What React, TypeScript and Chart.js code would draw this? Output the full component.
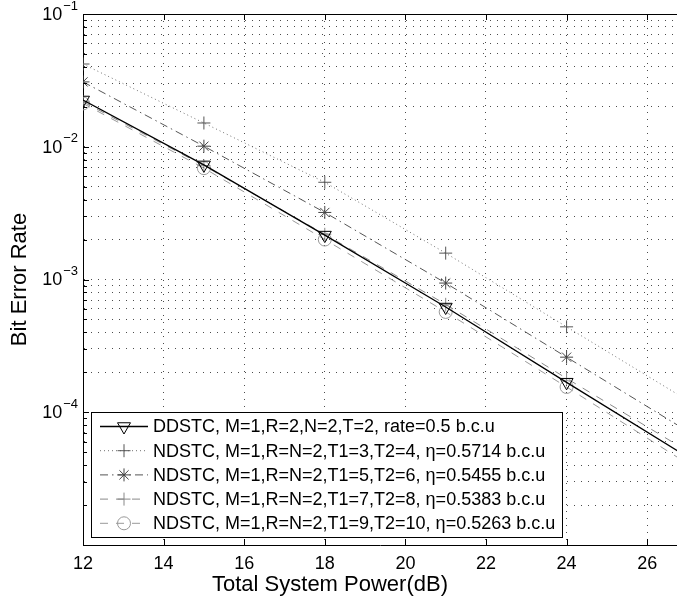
import React, { useEffect, useRef } from 'react';
import { Chart, registerables } from 'chart.js';

Chart.register(...registerables);

// ---- data ----
const powerDb = [12, 15, 18, 21, 24, 27];
const berDDSTC = [0.0225, 0.0073, 0.00216, 0.00062, 0.000168, 0.000046];
const berT1_3 = [0.042, 0.0151, 0.0054, 0.00158, 0.00044, 0.000123];
const berT1_5 = [0.0308, 0.0101, 0.0032, 0.00094, 0.00026, 0.000072];
const berT1_7 = [0.0218, 0.0072, 0.00219, 0.00065, 0.00018, 0.000051];
const berT1_9 = [0.0212, 0.0069, 0.002, 0.00057, 0.000155, 0.000041];

const xTicks = [12, 14, 16, 18, 20, 22, 24, 26];
const yDecadeExps = [-5, -4, -3, -2, -1];
const yLabelExps = [-4, -3, -2, -1];
const yMinorMult = [1, 2, 3, 4, 5, 6, 7, 8, 9];

const legendLabels = [
  'DDSTC, M=1,R=2,N=2,T=2, rate=0.5 b.c.u',
  'NDSTC, M=1,R=N=2,T1=3,T2=4, η=0.5714 b.c.u',
  'NDSTC, M=1,R=N=2,T1=5,T2=6, η=0.5455 b.c.u',
  'NDSTC, M=1,R=N=2,T1=7,T2=8, η=0.5383 b.c.u',
  'NDSTC, M=1,R=N=2,T1=9,T2=10, η=0.5263 b.c.u',
];
const xTitle = 'Total System Power(dB)';
const yTitle = 'Bit Error Rate';

const FONT = "'Liberation Sans', Arial, sans-serif";

const seriesStyles = [
  { values: berDDSTC, color: '#000000', pointColor: '#000000', dash: [], width: 1.3, marker: 'triangle', r: 7.5 },
  { values: berT1_3, color: '#707070', pointColor: '#555555', dash: [1, 3], width: 1, marker: 'cross', r: 6.5 },
  { values: berT1_5, color: '#555555', pointColor: '#444444', dash: [8, 4, 1.5, 4], width: 1, marker: 'star', r: 6.5 },
  { values: berT1_7, color: '#8a8a8a', pointColor: '#888888', dash: [8, 8], width: 1, marker: 'cross', r: 6.5 },
  { values: berT1_9, color: '#999999', pointColor: '#999999', dash: [8, 8], width: 1, marker: 'circle', r: 6.5 },
];

function yGridValues(): number[] {
  const out: number[] = [];
  yDecadeExps.forEach((e) => {
    if (e === -1) {
      out.push(Math.pow(10, e));
    } else {
      yMinorMult.forEach((m) => out.push(m * Math.pow(10, e)));
    }
  });
  return out;
}

function drawMarker(ctx: CanvasRenderingContext2D, kind: string, x: number, y: number, r: number, color: string) {
  ctx.save();
  ctx.setLineDash([]);
  ctx.strokeStyle = color;
  ctx.lineWidth = 1;
  ctx.beginPath();
  if (kind === 'triangle') {
    const w = r * Math.sqrt(3) / 2;
    ctx.moveTo(x, y + r);
    ctx.lineTo(x - w, y - r / 2);
    ctx.lineTo(x + w, y - r / 2);
    ctx.closePath();
  } else if (kind === 'cross') {
    ctx.moveTo(x - r, y); ctx.lineTo(x + r, y);
    ctx.moveTo(x, y - r); ctx.lineTo(x, y + r);
  } else if (kind === 'star') {
    ctx.moveTo(x - r, y); ctx.lineTo(x + r, y);
    ctx.moveTo(x, y - r); ctx.lineTo(x, y + r);
    const d = r * Math.SQRT1_2;
    ctx.moveTo(x - d, y - d); ctx.lineTo(x + d, y + d);
    ctx.moveTo(x - d, y + d); ctx.lineTo(x + d, y - d);
  } else if (kind === 'circle') {
    ctx.arc(x, y, r, 0, Math.PI * 2);
  }
  ctx.stroke();
  ctx.restore();
}

const decorPlugin = {
  id: 'matlabDecor',
  afterDraw(chart: any) {
    const { ctx, chartArea: ca, scales } = chart;
    const xs = scales.x;
    const ys = scales.y;
    ctx.save();
    ctx.setLineDash([]);
    ctx.strokeStyle = '#000';
    ctx.lineWidth = 1;

    // top border
    ctx.beginPath();
    ctx.moveTo(ca.left, Math.round(ca.top) + 0.5);
    ctx.lineTo(ca.right, Math.round(ca.top) + 0.5);
    ctx.stroke();

    // x ticks (inward, bottom and top)
    xTicks.forEach((v) => {
      const px = Math.round(xs.getPixelForValue(v)) + 0.5;
      ctx.beginPath();
      ctx.moveTo(px, ca.bottom);
      ctx.lineTo(px, ca.bottom - 6);
      ctx.moveTo(px, ca.top);
      ctx.lineTo(px, ca.top + 6);
      ctx.stroke();
    });

    // y ticks (inward, left)
    yGridValues().forEach((v) => {
      const py = Math.round(ys.getPixelForValue(v)) + 0.5;
      const major = Math.abs(Math.log10(v) - Math.round(Math.log10(v))) < 1e-9;
      ctx.beginPath();
      ctx.moveTo(ca.left, py);
      ctx.lineTo(ca.left + (major ? 6 : 4), py);
      ctx.stroke();
    });

    // x tick labels
    ctx.fillStyle = '#000';
    ctx.font = `18px ${FONT}`;
    ctx.textAlign = 'center';
    ctx.textBaseline = 'middle';
    xTicks.forEach((v) => {
      ctx.fillText(String(v), xs.getPixelForValue(v), ca.bottom + 19);
    });

    // y tick labels 10^e
    yLabelExps.forEach((e) => {
      const py = ys.getPixelForValue(Math.pow(10, e));
      const sup = '−' + String(-e);
      ctx.font = `13px ${FONT}`;
      const supW = ctx.measureText(sup).width;
      const right = ca.left - 5;
      ctx.textAlign = 'left';
      ctx.textBaseline = 'middle';
      ctx.fillText(sup, right - supW, py - 8);
      ctx.font = `18px ${FONT}`;
      ctx.textAlign = 'right';
      ctx.fillText('10', right - supW - 1, py + 1);
    });

    // axis titles
    ctx.font = `22px ${FONT}`;
    ctx.textAlign = 'center';
    ctx.textBaseline = 'middle';
    ctx.fillText(xTitle, 330, ca.bottom + 40);
    ctx.save();
    ctx.translate(20, (ca.top + ca.bottom) / 2);
    ctx.rotate(-Math.PI / 2);
    ctx.fillText(yTitle, 0, 0);
    ctx.restore();

    // legend
    const bx = 91.5, by = 412.5, bw = 471, bh = 125;
    ctx.fillStyle = '#fff';
    ctx.fillRect(bx, by, bw, bh);
    ctx.strokeStyle = '#000';
    ctx.lineWidth = 1;
    ctx.strokeRect(bx, by, bw, bh);
    legendLabels.forEach((label, i) => {
      const st = seriesStyles[i];
      const ry = 426.5 + i * 24.2;
      ctx.save();
      ctx.strokeStyle = st.color;
      ctx.lineWidth = st.width;
      ctx.setLineDash(st.dash);
      ctx.beginPath();
      ctx.moveTo(100, ry);
      ctx.lineTo(148, ry);
      ctx.stroke();
      ctx.restore();
      drawMarker(ctx, st.marker, 124, ry, st.r, st.pointColor);
      ctx.fillStyle = '#000';
      ctx.font = `18px ${FONT}`;
      ctx.textAlign = 'left';
      ctx.textBaseline = 'middle';
      ctx.fillText(label, 153, ry + 1);
    });

    ctx.restore();
  },
};

export default function App() {
  const canvasRef = useRef<HTMLCanvasElement | null>(null);

  useEffect(() => {
    const canvas = canvasRef.current;
    if (!canvas) return;
    const datasets = seriesStyles.map((st, i) => ({
      label: legendLabels[i],
      data: powerDb.map((x, k) => ({ x, y: st.values[k] })),
      borderColor: st.color,
      borderWidth: st.width,
      borderDash: st.dash,
      fill: false,
      tension: 0,
      pointStyle: st.marker,
      pointRotation: st.marker === 'triangle' ? 180 : 0,
      pointRadius: st.r,
      pointBorderColor: st.pointColor,
      pointBackgroundColor: 'rgba(0,0,0,0)',
      pointBorderWidth: 1,
    }));

    const chart = new Chart(canvas, {
      type: 'line',
      data: { datasets },
      options: {
        responsive: false,
        animation: false,
        events: [],
        layout: { autoPadding: false, padding: { left: 83, top: 14, right: 0, bottom: 58 } },
        plugins: {
          legend: { display: false },
          tooltip: { enabled: false },
          title: { display: false },
        },
        scales: {
          x: {
            type: 'linear',
            min: 12,
            max: 26.74,
            afterBuildTicks: (s: any) => {
              s.ticks = xTicks.map((v) => ({ value: v }));
            },
            ticks: { display: false },
            grid: { color: 'rgba(0,0,0,0.7)', lineWidth: 1, drawTicks: false },
            border: { display: true, color: '#000', width: 1, dash: [1, 6] },
          },
          y: {
            type: 'logarithmic',
            min: 1e-5,
            max: 1e-1,
            afterBuildTicks: (s: any) => {
              s.ticks = yGridValues().map((v) => ({ value: v }));
            },
            ticks: { display: false },
            grid: { color: 'rgba(0,0,0,0.7)', lineWidth: 1, drawTicks: false },
            border: { display: true, color: '#000', width: 1, dash: [1, 6] },
          },
        },
      },
      plugins: [decorPlugin],
    });
    return () => chart.destroy();
  }, []);

  return (
    <div style={{ position: 'absolute', left: 0, top: 0, width: 677, height: 603, background: '#fff' }}>
      <canvas ref={canvasRef} width={677} height={603} style={{ display: 'block' }} />
    </div>
  );
}
